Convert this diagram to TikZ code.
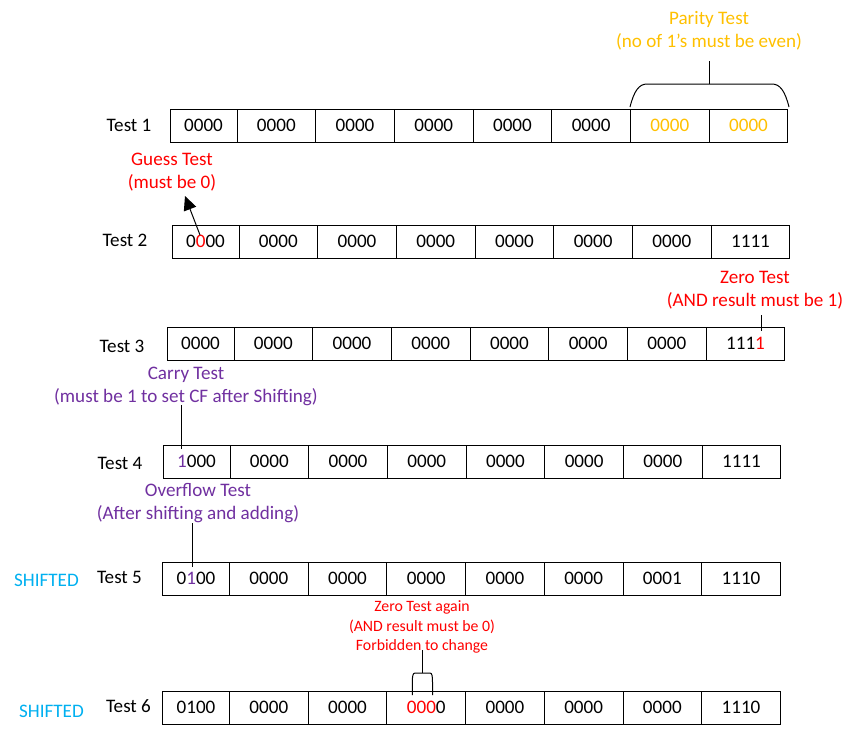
\documentclass[tikz,border=0pt]{standalone}
\usepackage{fontspec}
\setmainfont{Carlito}
\usetikzlibrary{arrows.meta}
\definecolor{gold}{HTML}{FFC000}
\definecolor{vio}{HTML}{7030A0}
\definecolor{sky}{HTML}{00B0F0}
\definecolor{rd}{HTML}{FF0000}
\newcommand\fsbig{\fontsize{19.1pt}{23pt}\selectfont}
\newcommand\fssmall{\fontsize{15.8pt}{19.5pt}\selectfont}
\newcommand\cellrow[5]{%
  \node[cell, minimum width=67pt] (#1c1) at (#2+33.5, #3+16.5) {#4};
  \foreach \txt [count=\i from 2] in {#5} {
    \node[cell] (#1c\i) at ({#2+67+(\i-1.5)*78.7}, #3+16.5) {\txt};
  }%
}
\begin{document}
\begin{tikzpicture}[x=1pt,y=-1pt,
  cell/.style={draw, line width=1pt, minimum width=78.7pt, minimum height=33pt, inner sep=0pt, font=\fsbig},
  lbl/.style={font=\fsbig, align=center, inner sep=0pt},
  conn/.style={line width=1pt, black}]
\useasboundingbox (0,0) rectangle (865,753);

% rows
\cellrow{r1}{170}{109}{0000}{0000,0000,0000,0000,0000,{\textcolor{gold}{0000}},{\textcolor{gold}{0000}}}
\cellrow{r2}{172}{225}{0\textcolor{rd}{0}00}{0000,0000,0000,0000,0000,0000,1111}
\cellrow{r3}{167}{327}{0000}{0000,0000,0000,0000,0000,0000,{111\textcolor{rd}{1}}}
\cellrow{r4}{163}{445}{\textcolor{vio}{1}000}{0000,0000,0000,0000,0000,0000,1111}
\cellrow{r5}{162.5}{562}{0\textcolor{vio}{1}00}{0000,0000,0000,0000,0000,0001,1110}
\cellrow{r6}{162.5}{691}{0100}{0000,0000,{\textcolor{rd}{000}0},0000,0000,0000,1110}

% row labels
\node[lbl] (t1) at (129,125.5) {Test 1};
\node[lbl] (t2) at (125,240) {Test 2};
\node[lbl] (t3) at (122,346) {Test 3};
\node[lbl] (t4) at (120,463) {Test 4};
\node[lbl] (t5) at (119.5,577) {Test 5};
\node[lbl] (t6) at (128.5,706) {Test 6};
\node[lbl, text=sky] (s5) at (46.5,580) {SHIFTED};
\node[lbl, text=sky] (s6) at (51.5,711) {SHIFTED};

% annotations
\node[lbl, text=gold] (parity) at (709,30.5) {Parity Test\\(no of 1{\char"0027}s must be even)};
\node[lbl, text=rd] (guess) at (172,172) {Guess Test\\(must be 0)};
\node[lbl, text=rd] (zero) at (755,290.5) {Zero Test\\(AND result must be 1)};
\node[lbl, text=vio] (carry) at (186,386) {Carry Test\\(must be 1 to set CF after Shifting)};
\node[lbl, text=vio] (ovf) at (198,503.5) {Overflow Test\\(After shifting and adding)};
\node[lbl, text=rd, font=\fssmall] (zero2) at (422,627) {Zero Test again\\(AND result must be 0)\\Forbidden to change};

% connector end points
\coordinate (pTop) at (709,61);
\coordinate (pMid) at (709,84);
\coordinate (gFrom) at (200,235);
\coordinate (gTip) at (185,196);
\coordinate (zTop) at (761.5,315);
\coordinate (zBot) at (761.5,331);
\coordinate (cTop) at (181.7,405);
\coordinate (cBot) at (181.7,449);
\coordinate (oTop) at (192.7,523);
\coordinate (oBot) at (192.7,567);
\coordinate (z2Top) at (422.3,650);
\coordinate (z2Mid) at (422.3,673);

% parity bracket
\draw[conn] (pTop) -- (pMid);
\draw[conn] (630,107) .. controls (634,91) and (639,84) .. (647,84) -- (772,84) .. controls (780,84) and (785,91) .. (789,107);

% guess arrow
\draw[conn, -{Triangle[length=14pt,width=13pt]}] (gFrom) -- (gTip);

% other lines
\draw[conn] (zTop) -- (zBot);
\draw[conn] (cTop) -- (cBot);
\draw[conn] (oTop) -- (oBot);
\draw[conn] (z2Top) -- (z2Mid);
\draw[conn] (412.3,695) -- (412.3,682) .. controls (412.3,676) and (413,673) .. (415,673) -- (430,673) .. controls (432,673) and (432.5,676) .. (432.5,682) -- (432.5,695);
\end{tikzpicture}
\end{document}
